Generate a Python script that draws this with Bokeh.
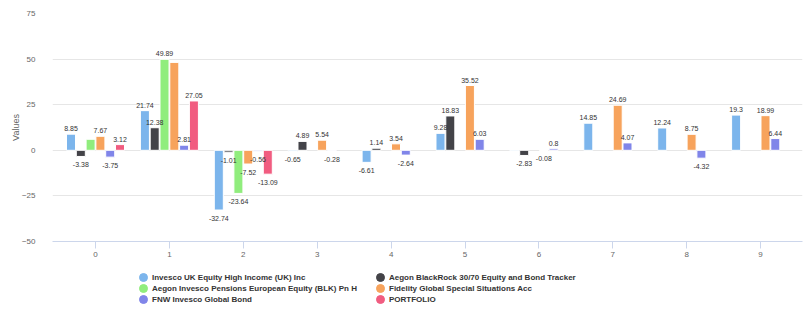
from bokeh.plotting import figure
from bokeh.layouts import column
from bokeh.models import ColumnDataSource, Legend, LegendItem, FixedTicker, Range1d
from bokeh.core.properties import value
from bokeh.embed import file_html
from bokeh.resources import INLINE

# ---------------- data ----------------
categories = [0, 1, 2, 3, 4, 5, 6, 7, 8, 9]

series_names = [
    "Invesco UK Equity High Income (UK) Inc",
    "Aegon BlackRock 30/70 Equity and Bond Tracker",
    "Aegon Invesco Pensions European Equity (BLK) Pn H",
    "Fidelity Global Special Situations Acc",
    "FNW Invesco Global Bond",
    "PORTFOLIO",
]

invesco_uk = [8.85, 21.74, -32.74, -0.65, -6.61, 9.28, -0.4, 14.85, 12.24, 19.3]
aegon_blackrock = [-3.38, 12.38, -1.01, 4.89, 1.14, 18.83, -2.83, None, None, None]
aegon_invesco = [6.04, 49.89, -23.64, None, None, None, None, None, None, None]
fidelity = [7.67, 48.2, -7.52, 5.54, 3.54, 35.52, -0.08, 24.69, 8.75, 18.99]
fnw_bond = [-3.75, 2.81, -0.56, -0.28, -2.64, 6.03, 0.8, 4.07, -4.32, 6.44]
portfolio = [3.12, 27.05, -13.09, None, None, None, None, None, None, None]

series_values = [invesco_uk, aegon_blackrock, aegon_invesco, fidelity, fnw_bond, portfolio]

# labels hidden in the reference because they overlap (series index, category)
hidden_labels = [(2, 0), (3, 1), (0, 6)]

y_ticks = [-50, -25, 0, 25, 50, 75]

colors = ["#7cb5ec", "#434348", "#90ed7d", "#f7a35c", "#8085e9", "#f15c80"]

# ---------------- chart figure ----------------
FONT = "Liberation Sans"

p = figure(
    width=803, height=262,
    x_range=Range1d(-0.582, 9.567), y_range=Range1d(-50, 75),
    output_backend="svg", toolbar_location=None,
    min_border_left=52, min_border_right=1, min_border_top=13, min_border_bottom=21,
)
p.outline_line_color = None
p.background_fill_color = "white"
p.border_fill_color = "white"

slot = 0.1326
bar_w = 0.122

pos = dict(x=[], y=[], t=[])
neg = dict(x=[], y=[], t=[])

for si, (vals, col) in enumerate(zip(series_values, colors)):
    off = (si - 2.5) * slot
    xs, tops = [], []
    for ci, v in zip(categories, vals):
        if v is None:
            continue
        xs.append(ci + off)
        tops.append(v)
        if (si, ci) in hidden_labels:
            continue
        d = pos if v >= 0 else neg
        d["x"].append(ci + off)
        d["y"].append(v)
        d["t"].append(f"{v:g}")
    src = ColumnDataSource(dict(x=xs, top=tops))
    p.vbar(x="x", top="top", bottom=0, width=bar_w, source=src,
           fill_color=col, line_color="white", line_width=1)

p.text(x="x", y="y", text="t", source=ColumnDataSource(pos),
       text_align="center", text_baseline="bottom", y_offset=-3,
       text_font=value(FONT), text_font_size="7px", text_color="#333333")
p.text(x="x", y="y", text="t", source=ColumnDataSource(neg),
       text_align="center", text_baseline="top", y_offset=6,
       text_font=value(FONT), text_font_size="7px", text_color="#333333")

p.xaxis.ticker = FixedTicker(ticks=categories)
p.xaxis.axis_line_color = "#ccd6eb"
p.xaxis.major_tick_line_color = "#ccd6eb"
p.xaxis.major_tick_out = 7
p.xaxis.major_tick_in = 0
p.xaxis.minor_tick_line_color = None
p.xaxis.major_label_text_font = FONT
p.xaxis.major_label_text_font_size = "8px"
p.xaxis.major_label_text_color = "#666666"
p.xaxis.major_label_standoff = 3

p.yaxis.ticker = FixedTicker(ticks=y_ticks)
p.yaxis.axis_line_color = None
p.yaxis.major_tick_line_color = None
p.yaxis.minor_tick_line_color = None
p.yaxis.major_label_text_font = FONT
p.yaxis.major_label_text_font_size = "8px"
p.yaxis.major_label_text_color = "#666666"
p.yaxis.major_label_standoff = 11
p.yaxis.axis_label = "Values"
p.yaxis.axis_label_text_font = FONT
p.yaxis.axis_label_text_font_size = "9px"
p.yaxis.axis_label_text_font_style = "normal"
p.yaxis.axis_label_text_color = "#666666"
p.yaxis.axis_label_standoff = -2

p.xgrid.grid_line_color = None
p.ygrid.ticker = FixedTicker(ticks=y_ticks)
p.ygrid.grid_line_color = "#e6e6e6"

# ---------------- legend strip ----------------
lp = figure(
    width=803, height=47, x_range=Range1d(0, 1), y_range=Range1d(0, 1),
    output_backend="svg", toolbar_location=None,
    x_axis_location=None, y_axis_location=None, min_border=0,
)
lp.grid.visible = False
lp.outline_line_color = None

symbols = []
for col in colors:
    r = lp.ellipse(x=[float("nan")], y=[float("nan")], width=8, height=8,
                   width_units="screen", height_units="screen",
                   fill_color=col, line_color=col)
    symbols.append(r)

def add_legend(idx, vx):
    items = [LegendItem(label=series_names[i], renderers=[symbols[i]]) for i in idx]
    lg = Legend(items=items, location=(vx, 5), orientation="vertical",
                glyph_width=10, glyph_height=10, label_height=10,
                spacing=1, label_standoff=4, padding=0, margin=0,
                label_text_font=FONT, label_text_font_size="8px",
                label_text_font_style="bold", label_text_color="#333333",
                background_fill_alpha=0, border_line_alpha=0)
    lp.add_layout(lg, "center")

add_legend([0, 2, 4], 86)
add_legend([1, 3, 5], 323)

layout = column(p, lp, spacing=0)
open("out.html", "w").write(file_html(layout, INLINE))
